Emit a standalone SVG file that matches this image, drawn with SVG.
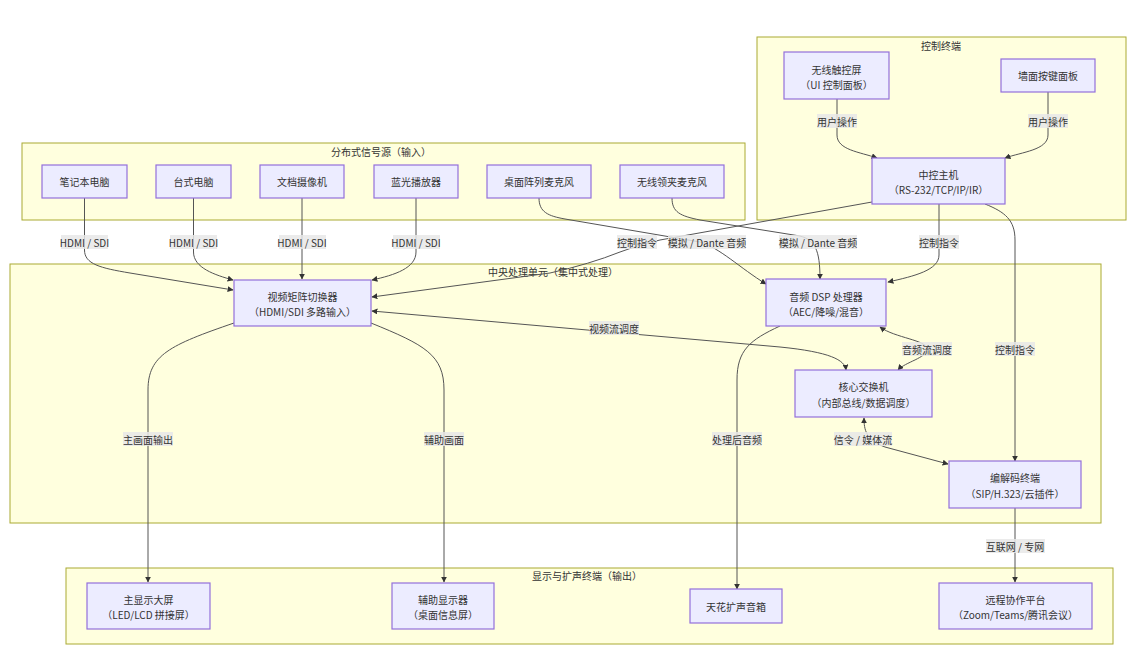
<svg xmlns="http://www.w3.org/2000/svg" width="1140" height="666" viewBox="0 0 1140 666">
<style>
text{font-family:"Noto Sans CJK SC","Noto Sans",sans-serif;font-size:10px;fill:#333;text-anchor:middle;dominant-baseline:central}
.cl{fill:#FFFFDE;stroke:#AAAA33;stroke-width:1}
.nd{fill:#ECECFF;stroke:#9370DB;stroke-width:1.2}
.e{fill:none;stroke:#555;stroke-width:1;marker-end:url(#ah)}
.b{marker-start:url(#ah)}
.lb{fill:#e8e8e8;fill-opacity:0.85}
</style>
<defs>
<marker id="ah" viewBox="0 0 10 10" refX="9" refY="5" markerWidth="6" markerHeight="6" markerUnits="userSpaceOnUse" orient="auto-start-reverse">
<path d="M0,0 L10,5 L0,10 z" fill="#333"/>
</marker>
</defs>
<rect width="1140" height="666" fill="#fff"/>
<g id="clusters">
<g id="cl-control"><rect class="cl" x="757" y="37" width="369" height="183"/><text x="941" y="45">控制终端</text></g>
<g id="cl-sources"><rect class="cl" x="22" y="143" width="723" height="77"/><text x="381" y="151">分布式信号源（输入）</text></g>
<g id="cl-central"><rect class="cl" x="10" y="264" width="1091" height="259"/><text x="553" y="271">中央处理单元（集中式处理）</text></g>
<g id="cl-output"><rect class="cl" x="66" y="568" width="1047" height="76"/><text x="587" y="575">显示与扩声终端（输出）</text></g>
</g>
<g id="connectors">
<path class="e" d="M837,99 V135 C837,150 860,152 877,158"/>
<path class="e" d="M1048,92 V135 C1048,150 1022,152 1005,158"/>
<path class="e" d="M84.5,198 V250 C84.5,264 100,268 130,273 L233,290"/>
<path class="e" d="M193.5,198 V252 C193.5,268 215,275 233,280"/>
<path class="e" d="M302,198 V279"/>
<path class="e" d="M416,198 V252 C416,268 395,275 372,280"/>
<path class="e" d="M539,198 C539,212 548,216 565,219 L700,242 C720,248 740,268 766,284"/>
<path class="e" d="M672,198 C672,212 680,216 700,220 L800,236 C815,240 820,250 820,279"/>
<path class="e" d="M872,202 L660,240 Q640,244 620,252 Q590,264 550,273 L372,297"/>
<path class="e" d="M939,204 V255 C939,270 915,276 888,282"/>
<path class="e" d="M985,204 C1005,212 1015,220 1015,240 V461"/>
<path class="e" d="M234,323 C170,345 148,355 148,390 V582"/>
<path class="e" d="M371,323 C425,345 444,355 444,390 V582"/>
<path class="e b" d="M372,311 L780,347 C830,352 845,360 846,370"/>
<path class="e b" d="M880,327 C895,338 927,340 927,349 C927,358 905,362 898,370"/>
<path class="e b" d="M864,418 C864,430 866,440 885,447 L948,464"/>
<path class="e" d="M780,326 C750,340 737,350 737,380 V589"/>
<path class="e" d="M1015,508 V582"/>
</g>
<g id="edge-labels">
<rect class="lb" x="817" y="114" width="40" height="14"/><text x="837" y="121">用户操作</text>
<rect class="lb" x="1028" y="114" width="40" height="14"/><text x="1048" y="121">用户操作</text>
<rect class="lb" x="61" y="235" width="47" height="14"/><text x="84.5" y="242">HDMI / SDI</text>
<rect class="lb" x="170" y="235" width="47" height="14"/><text x="193.5" y="242">HDMI / SDI</text>
<rect class="lb" x="279" y="235" width="47" height="14"/><text x="302" y="242">HDMI / SDI</text>
<rect class="lb" x="393" y="235" width="47" height="14"/><text x="416" y="242">HDMI / SDI</text>
<rect class="lb" x="617" y="235" width="40" height="14"/><text x="637" y="242">控制指令</text>
<rect class="lb" x="668" y="235" width="78" height="14"/><text x="707" y="242">模拟 / Dante 音频</text>
<rect class="lb" x="779" y="235" width="78" height="14"/><text x="818" y="242">模拟 / Dante 音频</text>
<rect class="lb" x="919" y="235" width="40" height="14"/><text x="939" y="242">控制指令</text>
<rect class="lb" x="589" y="321" width="50" height="14"/><text x="614" y="328">视频流调度</text>
<rect class="lb" x="902" y="342" width="50" height="14"/><text x="927" y="349">音频流调度</text>
<rect class="lb" x="995" y="342" width="40" height="14"/><text x="1015" y="349">控制指令</text>
<rect class="lb" x="123" y="432" width="50" height="14"/><text x="148" y="439">主画面输出</text>
<rect class="lb" x="424" y="432" width="40" height="14"/><text x="444" y="439">辅助画面</text>
<rect class="lb" x="712" y="432" width="50" height="14"/><text x="737" y="439">处理后音频</text>
<rect class="lb" x="834" y="432" width="58" height="14"/><text x="863" y="439">信令 / 媒体流</text>
<rect class="lb" x="986" y="539" width="59" height="14"/><text x="1015" y="546">互联网 / 专网</text>
</g>
<g id="n-touch"><rect class="nd" x="784" y="52" width="105" height="47"/><text x="836.5" y="69">无线触控屏</text><text x="836.5" y="84">（UI 控制面板）</text></g>
<g id="n-wall"><rect class="nd" x="1001" y="59" width="94" height="33"/><text x="1048" y="75.5">墙面按键面板</text></g>
<g id="n-host"><rect class="nd" x="872" y="158" width="133" height="46"/><text x="938.5" y="174">中控主机</text><text x="938.5" y="189">（RS-232/TCP/IP/IR）</text></g>
<g id="n-laptop"><rect class="nd" x="42" y="165" width="85" height="33"/><text x="84.5" y="181.5">笔记本电脑</text></g>
<g id="n-desktop"><rect class="nd" x="156" y="165" width="75" height="33"/><text x="193.5" y="181.5">台式电脑</text></g>
<g id="n-doccam"><rect class="nd" x="260" y="165" width="84" height="33"/><text x="302" y="181.5">文档摄像机</text></g>
<g id="n-bluray"><rect class="nd" x="374" y="165" width="84" height="33"/><text x="416" y="181.5">蓝光播放器</text></g>
<g id="n-deskmic"><rect class="nd" x="487" y="165" width="104" height="33"/><text x="539" y="181.5">桌面阵列麦克风</text></g>
<g id="n-lavmic"><rect class="nd" x="620" y="165" width="104" height="33"/><text x="672" y="181.5">无线领夹麦克风</text></g>
<g id="n-matrix"><rect class="nd" x="234" y="280" width="137" height="46"/><text x="302.5" y="296">视频矩阵切换器</text><text x="302.5" y="311">（HDMI/SDI 多路输入）</text></g>
<g id="n-dsp"><rect class="nd" x="766" y="279" width="120" height="47"/><text x="826" y="296">音频 DSP 处理器</text><text x="826" y="311">（AEC/降噪/混音）</text></g>
<g id="n-switch"><rect class="nd" x="795" y="370" width="137" height="47"/><text x="863.5" y="386">核心交换机</text><text x="863.5" y="402">（内部总线/数据调度）</text></g>
<g id="n-codec"><rect class="nd" x="949" y="461" width="132" height="47"/><text x="1015" y="477">编解码终端</text><text x="1015" y="493">（SIP/H.323/云插件）</text></g>
<g id="n-mainscreen"><rect class="nd" x="87" y="583" width="123" height="46"/><text x="148.5" y="599">主显示大屏</text><text x="148.5" y="614">（LED/LCD 拼接屏）</text></g>
<g id="n-auxscreen"><rect class="nd" x="392" y="583" width="102" height="46"/><text x="443" y="599">辅助显示器</text><text x="443" y="614">（桌面信息屏）</text></g>
<g id="n-speaker"><rect class="nd" x="690" y="589" width="92" height="34"/><text x="736" y="606">天花扩声音箱</text></g>
<g id="n-remote"><rect class="nd" x="939" y="583" width="153" height="46"/><text x="1015.5" y="599">远程协作平台</text><text x="1015.5" y="614">（Zoom/Teams/腾讯会议）</text></g>
</svg>
